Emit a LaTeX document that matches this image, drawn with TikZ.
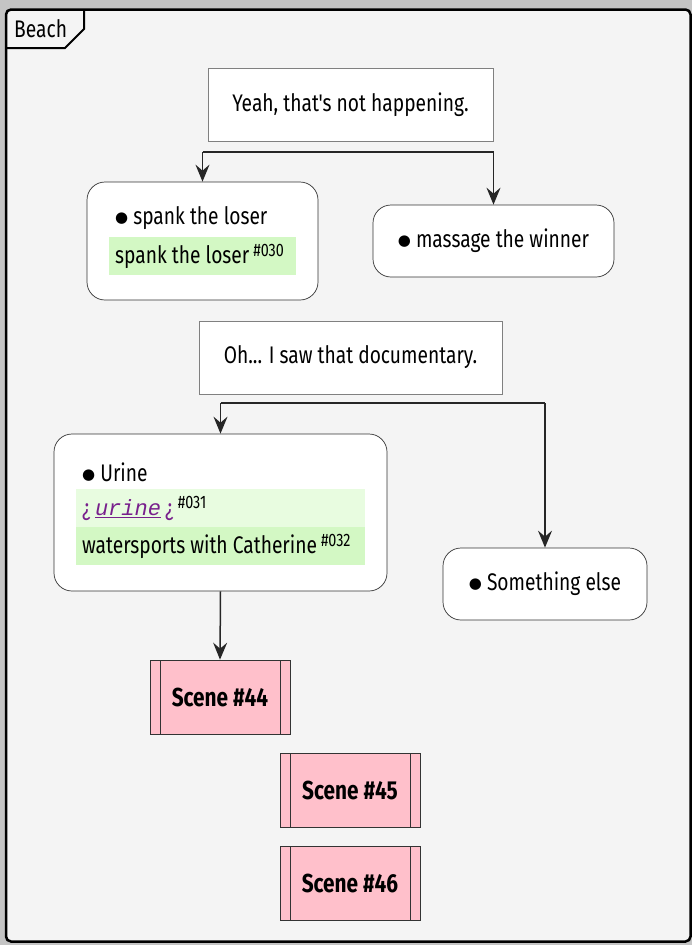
\documentclass[tikz,border=0pt]{standalone}
\usepackage{fontspec}
\setmainfont{Fira Sans}[FakeStretch=0.8, Ligatures=TeXOff]
\setmonofont{Liberation Mono}
\newfontfamily\symfont{DejaVu Sans}
\usetikzlibrary{arrows.meta, positioning}

\definecolor{paper}{HTML}{F4F4F4}
\definecolor{outside}{HTML}{C4C4C4}
\definecolor{tagdark}{HTML}{D3F8C4}
\definecolor{taglight}{HTML}{E8FCE0}
\definecolor{scenepink}{HTML}{FFC0CB}
\definecolor{linkpurple}{HTML}{78208C}

\newcommand{\refno}[1]{\,\raisebox{0.55ex}{\fontsize{18}{18}\selectfont\##1}}
\newcommand{\dotmark}{\raisebox{2pt}{\fontsize{15}{15}\symfont ●}\hspace{5pt}}

\begin{document}
\begin{tikzpicture}[
  x=1pt, y=-1pt,
  every node/.style={font=\fontsize{24}{28}\selectfont},
  note/.style={draw=black!50, fill=white, line width=0.7pt, minimum height=73pt, inner sep=0pt},
  act/.style={draw=black!80, fill=white, rounded corners=18pt, line width=0.7pt, inner sep=0pt},
  item/.style={anchor=west, inner sep=0pt},
  tagrow/.style={anchor=north west, minimum height=38pt, inner xsep=6pt, inner ysep=0pt, align=flush left},
  scenebox/.style={draw=black!80, fill=scenepink, line width=0.7pt, minimum width=140pt, minimum height=74pt,
                   inner sep=0pt, font=\fontsize{26}{28}\selectfont\bfseries,
                   path picture={
                     \draw[black!80, line width=0.7pt]
                       ([xshift=10pt]path picture bounding box.north west) -- ([xshift=10pt]path picture bounding box.south west)
                       ([xshift=-10pt]path picture bounding box.north east) -- ([xshift=-10pt]path picture bounding box.south east);}},
  bar/.style={line width=2.2pt, black!85},
  arr/.style={-{Stealth[length=17pt, width=14pt, inset=6pt]}, line width=1.5pt, black!85}
]
  \useasboundingbox[fill=outside] (0,0) rectangle (692,945);

  % Frame
  \draw[line width=2.5pt, fill=paper, rounded corners=5pt] (6,9.5) rectangle (690.5,941.5);
  \draw[line width=2pt] (6,48) -- (65,48) -- (84,29) -- (84,9.5);
  \node[item] (beach) at (14,29) {Beach};

  % First choice
  \node[note, minimum width=285pt] (nope) at (350.5,104.5) {Yeah, that's not happening.};
  \node[act, minimum width=231pt, minimum height=118pt] (spank) at (202.5,241) {};
  \node[item] (spanktxt) at (115,218) {\dotmark spank the loser};
  \node[tagrow, fill=tagdark, text width=175pt] (tag30) at (109,237) {spank the loser\refno{030}};
  \node[act, minimum width=241pt, minimum height=72pt] (winner) at (493.5,241) {\dotmark massage the winner};

  % Second choice
  \node[note, minimum width=303pt] (docu) at (350.5,357.5) {Oh... I saw that documentary.};
  \node[act, minimum width=333pt, minimum height=157pt] (urine) at (220.5,512.5) {};
  \node[item] (urinetxt) at (82,472) {\dotmark Urine};
  \node[tagrow, fill=taglight, text width=277pt] (tag31) at (76,489)
    {{\color{linkpurple}¿\,\underline{\fontsize{22}{24}\ttfamily\itshape urine}\,¿}\refno{031}};
  \node[tagrow, fill=tagdark, text width=277pt] (tag32) at (76,527) {watersports with Catherine\refno{032}};
  \node[act, minimum width=204pt, minimum height=72pt] (other) at (545,584) {\dotmark Something else};

  % Scenes
  \node[scenebox] (scene44) at (220,697) {Scene \#44};
  \node[scenebox] (scene45) at (350,790.5) {Scene \#45};
  \node[scenebox] (scene46) at (350,883.5) {Scene \#46};

  % Arrows
  \coordinate (fork1) at (350,152);
  \coordinate (fork2) at (350,403);
  \draw[bar] (fork1 -| spank.north) -- (fork1 -| winner.north);
  \draw[arr] (fork1 -| spank.north) -- (spank.north);
  \draw[arr] (fork1 -| winner.north) -- (winner.north);
  \draw[bar] (fork2 -| urine.north) -- (fork2 -| other.north);
  \draw[arr] (fork2 -| urine.north) -- (urine.north);
  \draw[arr] (fork2 -| other.north) -- (other.north);
  \draw[arr] (urine.south) -- (scene44.north);
\end{tikzpicture}
\end{document}
